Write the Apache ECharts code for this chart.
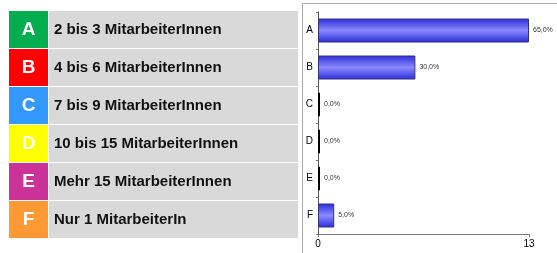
<!DOCTYPE html>
<html>
<head>
<meta charset="utf-8">
<script src="https://cdn.jsdelivr.net/npm/echarts@6/dist/echarts.min.js"></script>
<style>
  html, body { margin: 0; padding: 0; background: #fff; }
  #main { width: 557px; height: 253px; }
</style>
</head>
<body>
<div id="main"></div>
<script>
var letters = ['A', 'B', 'C', 'D', 'E', 'F'];
var answers = ['2 bis 3 MitarbeiterInnen', '4 bis 6 MitarbeiterInnen', '7 bis 9 MitarbeiterInnen',
  '10 bis 15 MitarbeiterInnen', 'Mehr 15 MitarbeiterInnen', 'Nur 1 MitarbeiterIn'];
var letterColors = ['#00ad4f', '#ff0000', '#3399ff', '#ffff00', '#cc3399', '#ff9933'];
var counts = [13, 6, 0, 0, 0, 1];
var xTicks = [0, 13];

var total = counts.reduce(function (a, b) { return a + b; }, 0);

// left legend table
var table = [];
letters.forEach(function (l, i) {
  var y = 11 + i * 38;
  table.push({
    type: 'rect', shape: { x: 9, y: y, width: 39, height: 37 },
    style: { fill: letterColors[i] }
  });
  table.push({
    type: 'rect', shape: { x: 49, y: y, width: 249, height: 37 },
    style: { fill: '#d9d9d9' }
  });
  table.push({
    type: 'text', x: 28.5, y: y + 19,
    style: { text: l, fill: '#fff', font: 'bold 19px "Liberation Sans", Arial', align: 'center', verticalAlign: 'middle' }
  });
  table.push({
    type: 'text', x: 54, y: y + 19,
    style: { text: answers[i], fill: '#111', font: 'bold 15px "Liberation Sans", Arial', verticalAlign: 'middle' }
  });
});
// chart frame
table.push({ type: 'line', shape: { x1: 302.5, y1: 3.5, x2: 557, y2: 3.5 }, style: { stroke: '#aaa', lineWidth: 1 } });
table.push({ type: 'line', shape: { x1: 302.5, y1: 3.5, x2: 302.5, y2: 253 }, style: { stroke: '#aaa', lineWidth: 1 } });

var barColor = new echarts.graphic.LinearGradient(0, 0, 0, 1, [
  { offset: 0, color: '#2b2bd8' },
  { offset: 0.5, color: '#8a8aff' },
  { offset: 1, color: '#2b2bd8' }
]);

var chart = echarts.init(document.getElementById('main'));
chart.setOption({
  animation: false,
  graphic: table,
  grid: { left: 318, right: 28, top: 12, bottom: 19 },
  xAxis: {
    type: 'value', min: xTicks[0], max: xTicks[1], interval: xTicks[1] - xTicks[0],
    splitLine: { show: false },
    axisLine: { show: true, lineStyle: { color: '#777', width: 1 } },
    axisTick: { show: true, length: 3, lineStyle: { color: '#777' } },
    axisLabel: { color: '#000', fontSize: 10, fontFamily: 'Liberation Sans', margin: 5 }
  },
  yAxis: {
    type: 'category', inverse: true, data: letters,
    axisLine: { show: true, lineStyle: { color: '#555', width: 1 } },
    axisTick: { show: true, length: 2, lineStyle: { color: '#777' } },
    axisLabel: { color: '#000', fontSize: 10, fontFamily: 'Liberation Sans', margin: 5 }
  },
  series: [{
    type: 'bar',
    data: counts,
    barWidth: 24,
    barMinHeight: 2,
    itemStyle: {
      color: function (p) { return p.value === 0 ? '#000' : barColor; },
      borderColor: '#33337a',
      borderWidth: 1
    },
    label: {
      show: true, position: 'right', distance: 4,
      fontSize: 7, color: '#333', fontFamily: 'Liberation Sans',
      formatter: function (p) { return (p.value / total * 100).toFixed(1).replace('.', ',') + '%'; }
    }
  }]
});
// zero bars drawn as plain black strokes
chart.setOption({
  series: [{
    data: counts.map(function (v) {
      return v === 0 ? { value: v, itemStyle: { borderColor: '#000' } } : v;
    })
  }]
});
window.addEventListener('resize', chart.resize);
</script>
</body>
</html>
